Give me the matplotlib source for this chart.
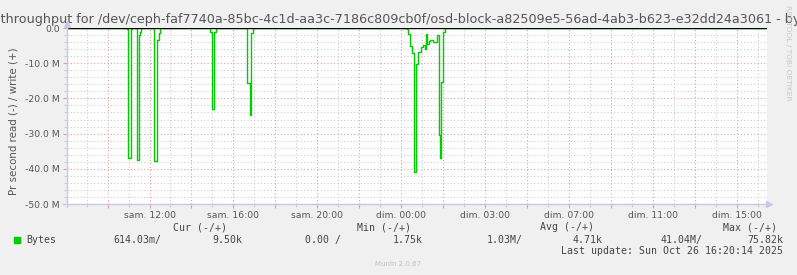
import matplotlib
matplotlib.use('Agg')
import matplotlib.pyplot as plt
from matplotlib.lines import Line2D
from matplotlib.ticker import FixedLocator, MultipleLocator

# Munin "diskstats throughput" day graph, read side plotted as negative
# time axis: minutes relative to sat. 12:00 (real time, DST change on sunday)
read_minutes = [-236, -63, -61, -54, -50, -35, -31, -27, -23,
                14, 21, 26, 29,
                173, 180, 185, 190,
                280, 286, 290, 296,
                736, 740, 744, 751, 756, 762, 769, 777, 782, 787, 792,
                795, 798, 802, 806, 811, 821, 827, 831, 835, 840, 845, 1766]
read_mbytes = [0, 0.4, 36.8, 0.4, 0, 37.5, 2.1, 1.0, 0,
               37.9, 3.3, 1.5, 0,
               1.0, 23.0, 1.0, 0,
               15.6, 24.8, 1.4, 0,
               0.3, 1.8, 5.2, 7.1, 40.9, 10.1, 6.8, 5.5, 4.9, 5.9, 1.7,
               4.5, 3.6, 3.4, 3.5, 3.9, 1.9, 30.4, 36.8, 15.2, 1.0, 0, 0]

tick_labels = ['sam. 12:00', 'sam. 16:00', 'sam. 20:00', 'dim. 00:00',
               'dim. 03:00', 'dim. 07:00', 'dim. 11:00', 'dim. 15:00']
y_ticks = [0, -10, -20, -30, -40, -50]
y_labels = ['0.0', '-10.0 M', '-20.0 M', '-30.0 M', '-40.0 M', '-50.0 M']

legend_head = ['Cur (-/+)', 'Min (-/+)', 'Avg (-/+)', 'Max (-/+)']
legend_vals = ['614.03m/', '9.50k', '0.00 /', '1.75k', '1.03M/', '4.71k', '41.04M/', '75.82k']

title = ('Disk throughput for /dev/ceph-faf7740a-85bc-4c1d-aa3c-7186c809cb0f/'
         'osd-block-a82509e5-56ad-4ab3-b623-e32dd24a3061 - by day')

W, H = 797, 275
fx = lambda x: x / W
fy = lambda y: 1 - y / H

fig = plt.figure(figsize=(W / 100, H / 100), dpi=100, facecolor='#f0f0f0')
ax = fig.add_axes([fx(67), fy(204), 700 / W, 176 / H])
ax.set_facecolor('white')

ax.set_xlim(-236, 1766)
ax.set_ylim(-50, 0)

# grid: major every 2h (red dotted), minor every hour (grey dotted)
major_x = list(range(-120, 1766, 120))
ax.xaxis.set_major_locator(FixedLocator(major_x))
ax.xaxis.set_minor_locator(MultipleLocator(60))
labels = []
for m in major_x:
    if m >= 0 and m % 240 == 0 and m // 240 < len(tick_labels):
        labels.append(tick_labels[m // 240])
    else:
        labels.append('')
ax.set_xticklabels(labels)
ax.set_yticks(y_ticks)
ax.set_yticklabels(y_labels)
ax.yaxis.set_minor_locator(MultipleLocator(2))

dots = (0, (1, 2))
ax.grid(True, which='major', color='#e0a0a0', linestyle=dots, linewidth=0.8)
ax.grid(True, which='minor', color='#cccccc', linestyle=dots, linewidth=0.8)
ax.set_axisbelow(True)

ax.tick_params(which='major', length=3, width=0.8, color='#e0a0a0',
               labelsize=6.7, labelcolor='#555555', pad=2)
ax.tick_params(which='minor', length=2, width=0.8, color='#cccccc')
for s in ax.spines.values():
    s.set_visible(False)

# data, then the zero line on top of it (as munin draws it)
ax.step(read_minutes, [-v for v in read_mbytes], where='post',
        color='#00cc00', linewidth=1.0, zorder=3)
ax.axhline(0, color='black', linewidth=1.0, zorder=4)

# axis lines with arrows, rrdtool style
axis_c = '#c8c8ee'
fig.add_artist(Line2D([fx(67), fx(67)], [fy(207), fy(24)], color=axis_c, lw=1))
fig.add_artist(Line2D([fx(63), fx(768)], [fy(204), fy(204)], color=axis_c, lw=1))
fig.add_artist(Line2D([fx(67)], [fy(24)], marker='^', markersize=4, color=axis_c, lw=0))
fig.add_artist(Line2D([fx(769)], [fy(204)], marker='>', markersize=4, color=axis_c, lw=0))

fig.text(fx(398.5), fy(19), title, ha='center', va='center', fontsize=9.15, color='#555555')
fig.text(fx(14), fy(121), 'Pr second read (-) / write (+)', rotation=90,
         ha='center', va='center', fontsize=7.4, color='#555555')
fig.text(fx(788), fy(53), 'RRDTOOL / TOBI OETIKER', rotation=270,
         ha='center', va='center', fontsize=5.4, color='#c8c8c8')

mono = dict(family='DejaVu Sans Mono', fontsize=7.1, color='#444444', va='center')
for txt, x in zip(legend_head, [173, 357, 540, 723]):
    fig.text(fx(x), fy(227.5), txt, ha='left', **mono)
fig.add_artist(Line2D([fx(17)], [fy(240)], marker='s', markersize=4.5,
                      color='#00cc00', lw=0))
fig.text(fx(26), fy(240), 'Bytes', ha='left', **mono)
for txt, x in zip(legend_vals, [161, 242, 341, 423, 523, 603, 703, 783]):
    fig.text(fx(x), fy(240), txt, ha='right', **mono)
fig.text(fx(783), fy(251.5), 'Last update: Sun Oct 26 16:20:14 2025', ha='right', **mono)
fig.text(fx(398), fy(264), 'Munin 2.0.67', ha='center', va='center',
         fontsize=5.0, color='#c0c0c0')

fig.savefig('out.png', dpi=100, facecolor=fig.get_facecolor())
